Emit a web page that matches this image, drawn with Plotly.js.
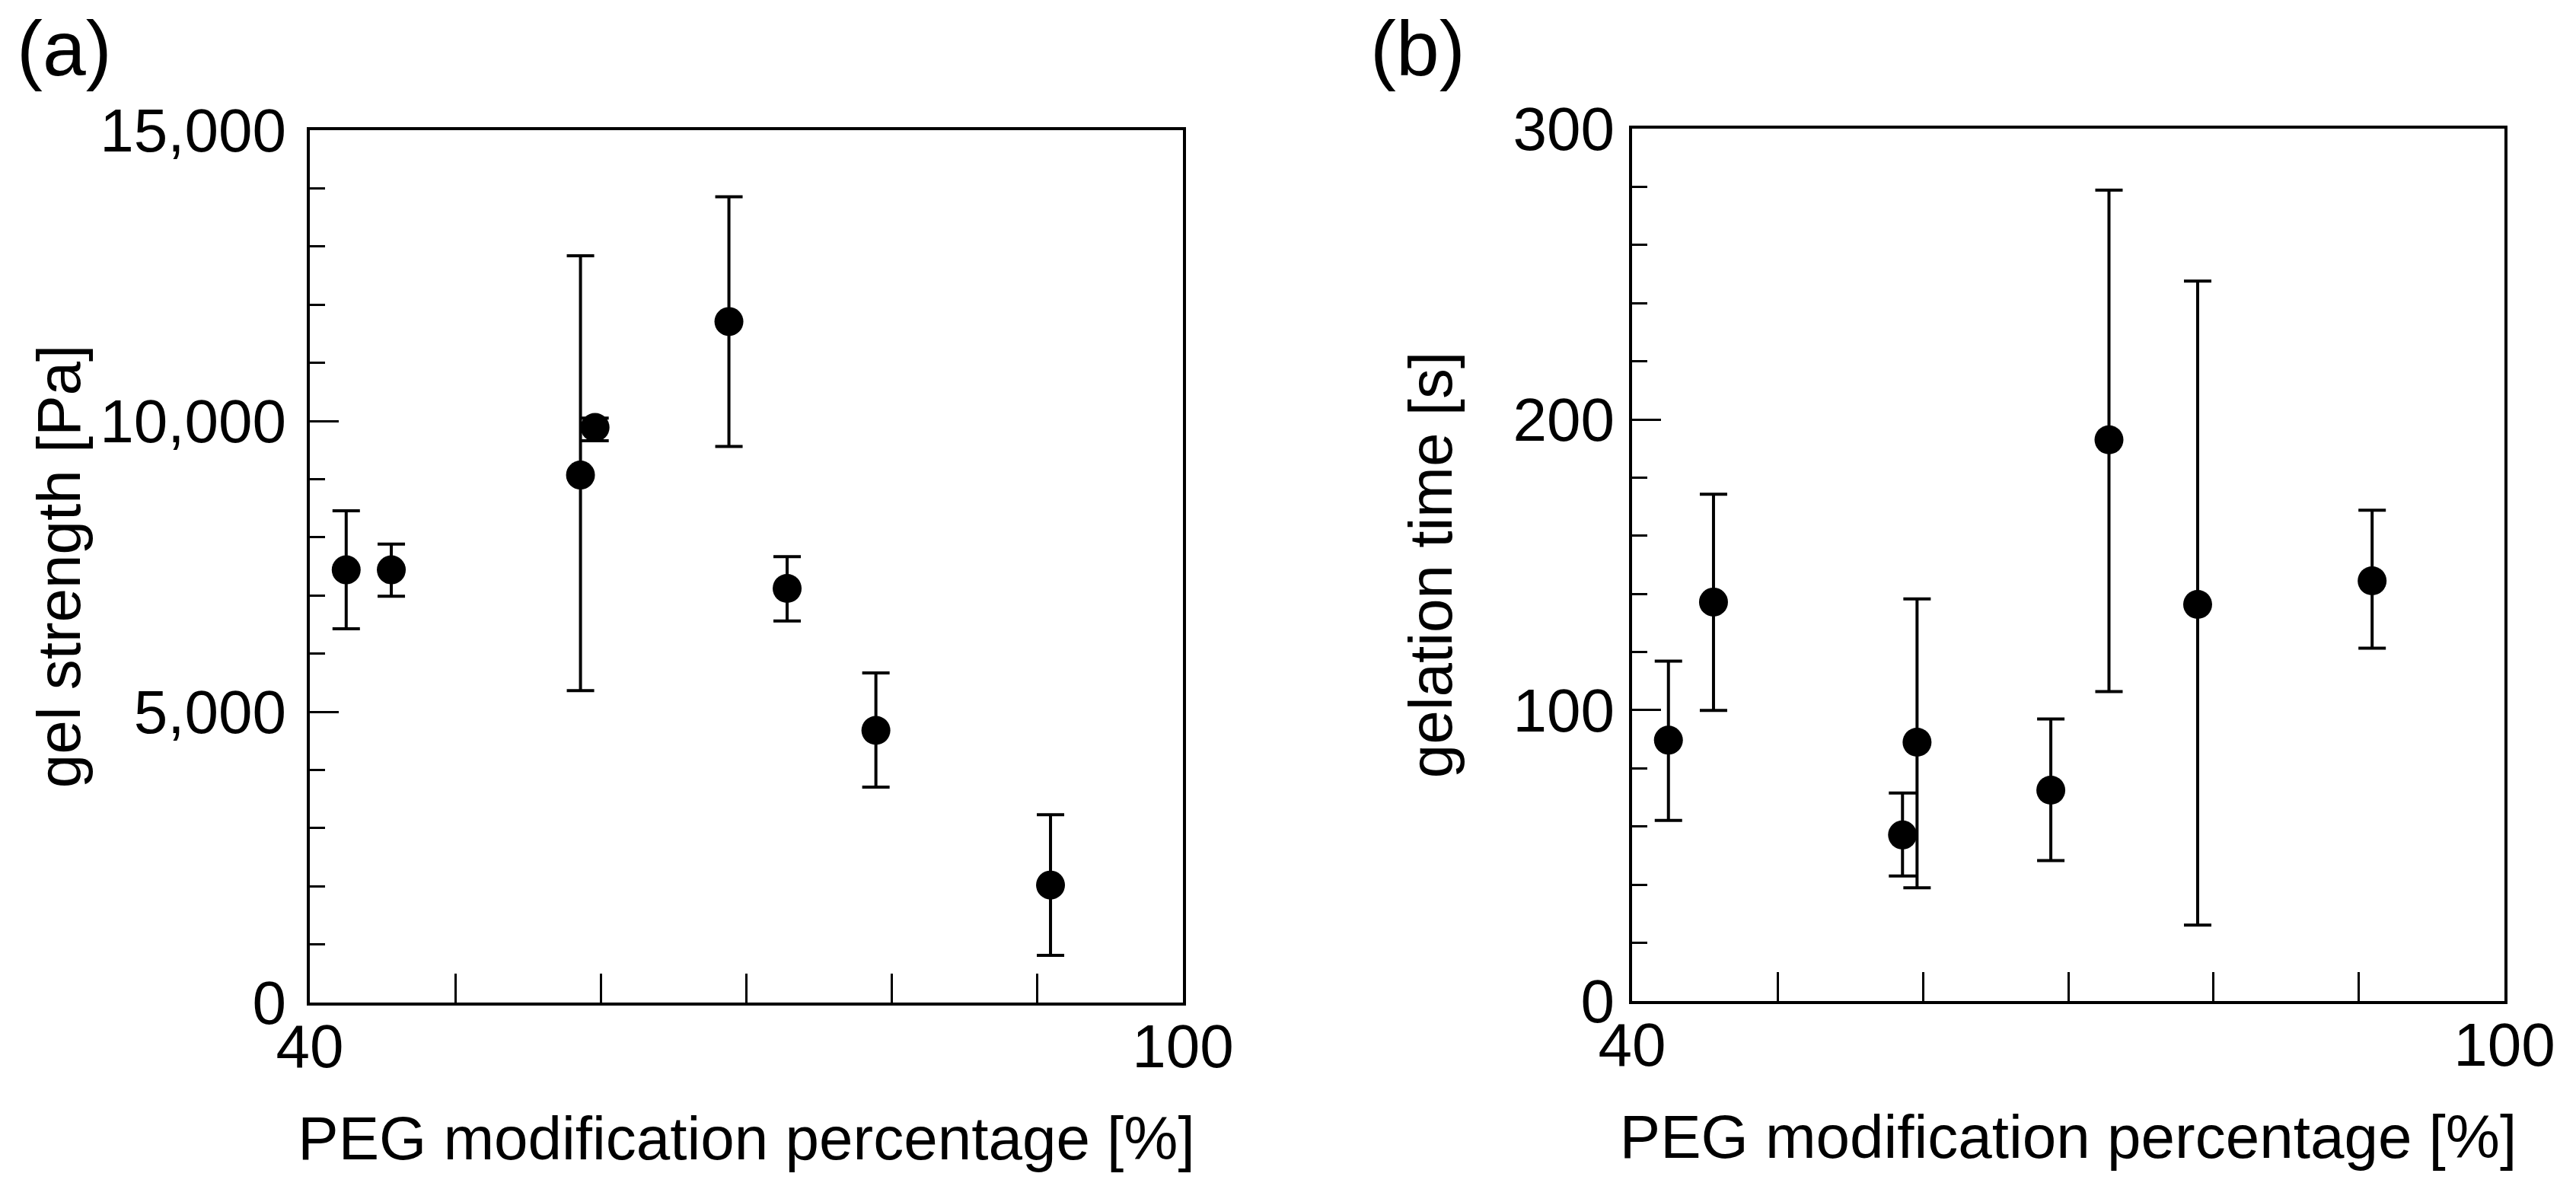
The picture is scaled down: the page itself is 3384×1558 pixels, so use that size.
<!DOCTYPE html>
<html>
<head>
<meta charset="utf-8">
<script src="https://cdn.plot.ly/plotly-3.0.1.min.js"></script>
<style>
  html, body { margin: 0; padding: 0; background: #fff; }
  #chart { width: 3384px; height: 1558px; }
</style>
</head>
<body>
<div id="chart"></div>
<script>
// PEG modification percentage [%]
const pegPercent = [42.5, 45.6, 58.6, 59.6, 68.8, 72.8, 78.9, 90.9];

// (a) gel strength [Pa]
const gelStrength = [7440, 7440, 9070, 9890, 11710, 7120, 4680, 2020];
const gelStrengthErrPlus = [1016, 443, 3772, 160, 2146, 547, 988, 1210];
const gelStrengthErrMinus = [1014, 455, 3708, 230, 2147, 559, 976, 1209];

// (b) gelation time [s]
const gelationTime = [89.7, 137.2, 57.1, 89.0, 72.5, 193.0, 136.4, 144.5];
const gelationTimeErrPlus = [27.2, 37.1, 14.4, 49.3, 24.5, 85.9, 111.2, 24.3];
const gelationTimeErrMinus = [27.6, 37.3, 14.1, 50.1, 24.2, 86.6, 110.3, 23.2];

// tick labels
const xTickVals = [40, 50, 60, 70, 80, 90, 100];
const xTickText = ['40', '', '', '', '', '', '100'];
const yTickValsA = [0, 5000, 10000, 15000];
const yTickTextA = ['0', '5,000', '10,000', '15,000'];
const yTickValsB = [0, 100, 200, 300];
const yTickTextB = ['0', '100', '200', '300'];

const FONT = '"Liberation Sans", Arial, Helvetica, sans-serif';

const markerStyle = { color: '#000', size: 38, line: { width: 0 } };

const traces = [
  {
    type: 'scatter', mode: 'markers',
    x: pegPercent, y: gelStrength,
    xaxis: 'x', yaxis: 'y',
    marker: markerStyle,
    error_y: {
      type: 'data', symmetric: false,
      array: gelStrengthErrPlus, arrayminus: gelStrengthErrMinus,
      color: '#000', thickness: 4, width: 18
    },
    showlegend: false, hoverinfo: 'x+y'
  },
  {
    type: 'scatter', mode: 'markers',
    x: pegPercent, y: gelationTime,
    xaxis: 'x2', yaxis: 'y2',
    marker: markerStyle,
    error_y: {
      type: 'data', symmetric: false,
      array: gelationTimeErrPlus, arrayminus: gelationTimeErrMinus,
      color: '#000', thickness: 4, width: 18
    },
    showlegend: false, hoverinfo: 'x+y'
  }
];

function xAxis(domain, anchor) {
  return {
    domain: domain, anchor: anchor,
    range: [40, 100],
    tickmode: 'array', tickvals: xTickVals, ticktext: xTickText,
    ticks: 'inside', ticklen: 38, tickwidth: 3, tickcolor: '#000',
    ticklabelstandoff: -15,
    showline: true, linecolor: '#000', linewidth: 4, mirror: true,
    showgrid: false, zeroline: false,
    tickfont: { family: FONT, size: 80, color: '#000' },
    title: {
      text: 'PEG modification percentage [%]',
      font: { family: FONT, size: 80, color: '#000' },
      standoff: 50
    }
  };
}

function yAxis(domain, anchor, range, vals, text, minorStep, title, labelStandoff, titleStandoff) {
  return {
    domain: domain, anchor: anchor,
    range: range,
    tickmode: 'array', tickvals: vals, ticktext: text,
    ticks: 'inside', ticklen: 38, tickwidth: 3, tickcolor: '#000',
    minor: { dtick: minorStep, ticks: 'inside', ticklen: 20, tickwidth: 3, tickcolor: '#000', showgrid: false },
    ticklabelstandoff: labelStandoff,
    showline: true, linecolor: '#000', linewidth: 4, mirror: true,
    showgrid: false, zeroline: false,
    tickfont: { family: FONT, size: 80, color: '#000' },
    title: {
      text: title,
      font: { family: FONT, size: 80, color: '#000' },
      standoff: titleStandoff
    }
  };
}

const layout = {
  width: 3384, height: 1558,
  margin: { l: 0, r: 0, t: 0, b: 0 },
  paper_bgcolor: '#fff', plot_bgcolor: '#fff',
  font: { family: FONT, color: '#000' },
  xaxis: xAxis([0.12027, 0.45922], 'y'),
  yaxis: yAxis([0.1547, 0.8902], 'x', [0, 15000], yTickValsA, yTickTextA, 1000, 'gel strength [Pa]', 11, 0),
  xaxis2: xAxis([0.63357, 0.97222], 'y2'),
  yaxis2: yAxis([0.1560, 0.8915], 'x2', [0, 300], yTickValsB, yTickTextB, 20, 'gelation time [s]', 3, 55),
  annotations: [
    { text: '(a)', xref: 'paper', yref: 'paper', x: 20 / 3384, y: 1 - 64 / 1558,
      xanchor: 'left', yanchor: 'middle', showarrow: false,
      font: { family: FONT, size: 102, color: '#000' } },
    { text: '(b)', xref: 'paper', yref: 'paper', x: 1798 / 3384, y: 1 - 64 / 1558,
      xanchor: 'left', yanchor: 'middle', showarrow: false,
      font: { family: FONT, size: 102, color: '#000' } }
  ]
};

Plotly.newPlot('chart', traces, layout, { displayModeBar: false, staticPlot: true });
</script>
</body>
</html>
